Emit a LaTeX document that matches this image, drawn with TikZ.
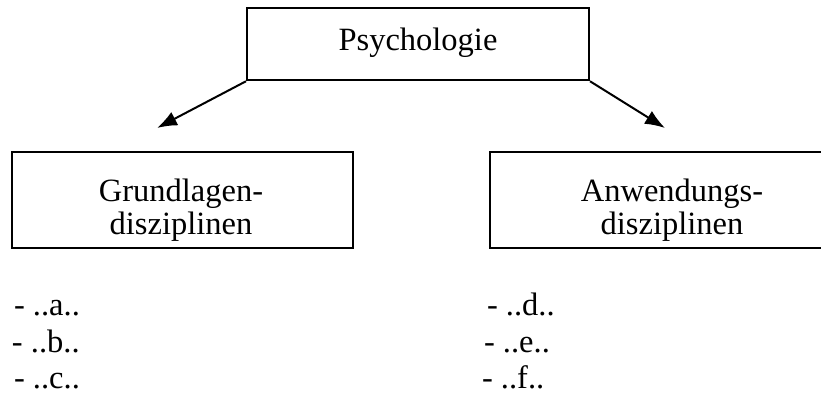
\documentclass[tikz,border=0pt]{standalone}
\usepackage{fontspec}
\setmainfont{Liberation Serif}
\usetikzlibrary{arrows.meta}

\begin{document}
\begin{tikzpicture}[x=1pt,y=-1pt,>={Latex[length=20pt,width=15pt]},line width=2pt,
        every node/.append style={align=center,font=\fontsize{32.5}{32.5}\selectfont},
        box/.style={draw, inner sep=0pt},item/.style={anchor=base west, inner sep=0pt}]
        \useasboundingbox (0,0) rectangle (821,394);
        \node [box, minimum width=342pt, minimum height=72.5pt] (P) at (418,44) {};
        \node [inner sep=0pt, anchor=base] (Pt) at (418,50) {Psychologie};
        \node [box, minimum width=341pt, minimum height=96pt] (G) at (182.5,200) {};
        \node [inner sep=0pt] (Gt) at (181,210) {Grundlagen-\\disziplinen};
        \node [box, minimum width=364pt, minimum height=96pt] (A) at (672,200) {};
        \node [inner sep=0pt] (At) at (672,210) {Anwendungs-\\disziplinen};
        \coordinate (tG) at (157,128);
        \coordinate (tA) at (665,128);
        \draw [->] (P.south west) -- (tG);
        \draw [->] (P.south east) -- (tA);
        \node [item] (a) at (13,315) {- ..a..};
        \node [item] (b) at (11,352) {- ..b..};
        \node [item] (c) at (13,388) {- ..c..};
        \node [item] (d) at (486,315) {- ..d..};
        \node [item] (e) at (483,352) {- ..e..};
        \node [item] (f) at (481,388) {- ..f..};
    \end{tikzpicture}
\end{document}
